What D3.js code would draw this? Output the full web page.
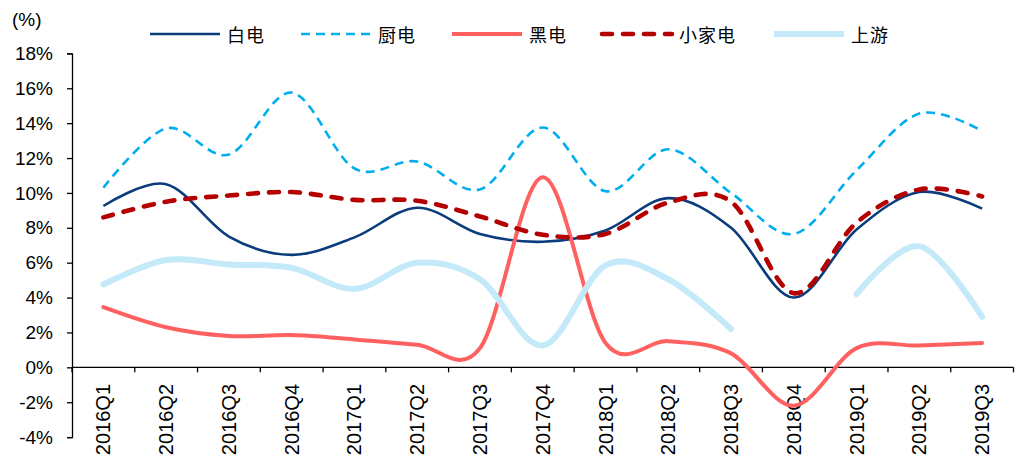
<!DOCTYPE html>
<html>
<head>
<meta charset="utf-8">
<script src="https://cdn.jsdelivr.net/npm/d3@7"></script>
<style>
  html, body { margin: 0; padding: 0; background: #fff; }
  svg { display: block; }
  .tick text { font-family: "Liberation Sans", Arial, sans-serif; fill: #000; }
</style>
</head>
<body>
<svg id="chart" width="1025" height="459"></svg>
<script>
// Quarterly categories
const categories = ["2016Q1","2016Q2","2016Q3","2016Q4","2017Q1","2017Q2","2017Q3","2017Q4",
                    "2018Q1","2018Q2","2018Q3","2018Q4","2019Q1","2019Q2","2019Q3"];

// Series values (%)
const baidian     = [9.25, 10.5, 7.5, 6.45, 7.45, 9.15, 7.65, 7.2, 7.85, 9.7, 8.0, 4.0, 7.9, 10.05, 9.1];
const chudian     = [10.3, 13.7, 12.2, 15.75, 11.4, 11.8, 10.2, 13.75, 10.1, 12.5, 10.0, 7.65, 11.3, 14.55, 13.55];
const heidian     = [3.45, 2.3, 1.8, 1.85, 1.6, 1.3, 1.1, 10.9, 1.4, 1.5, 0.8, -2.2, 1.1, 1.25, 1.4];
const xiaojiadian = [8.6, 9.5, 9.85, 10.05, 9.6, 9.55, 8.65, 7.6, 7.65, 9.45, 9.5, 4.25, 8.3, 10.2, 9.8];
const shangyou    = [4.75, 6.15, 5.9, 5.7, 4.5, 6.0, 5.05, 1.25, 5.85, 5.05, 2.2, null, 4.2, 6.95, 2.9];

// Axis ticks
const yTicks = [-4, -2, 0, 2, 4, 6, 8, 10, 12, 14, 16, 18];

const series = [
  { name: "白电",   values: baidian,     color: "#0B3C7C", width: 2.6, dash: null,    cap: "butt"  },
  { name: "厨电",   values: chudian,     color: "#00AEEF", width: 2.6, dash: "9,6",   cap: "butt"  },
  { name: "黑电",   values: heidian,     color: "#FF6161", width: 4,   dash: null,    cap: "round" },
  { name: "小家电", values: xiaojiadian, color: "#B50000", width: 4.6, dash: "10,11", cap: "round" },
  { name: "上游",   values: shangyou,    color: "#C4EAF9", width: 6,   dash: null,    cap: "round" }
];

const svg = d3.select("#chart");
const plotLeft = 72, plotRight = 1013.5, plotTop = 53.4, plotBottom = 437.1;

const x = d3.scaleBand().domain(categories).range([plotLeft, plotRight]).paddingInner(0).paddingOuter(0);
const y = d3.scaleLinear().domain([-4, 18]).range([plotBottom, plotTop]);

// Y axis
const yAxis = svg.append("g")
  .attr("transform", `translate(${plotLeft},0)`)
  .call(d3.axisLeft(y).tickValues(yTicks).tickSize(5).tickPadding(14).tickFormat(d => d + "%"));
yAxis.selectAll(".tick text").style("font-size", "19px");
yAxis.selectAll("path, line").attr("stroke", "#000").attr("stroke-width", 1.3);

// X axis at zero line, ticks on band boundaries
const xAxisG = svg.append("g").attr("transform", `translate(0,${y(0)})`);
xAxisG.append("line")
  .attr("x1", plotLeft).attr("x2", plotRight)
  .attr("stroke", "#000").attr("stroke-width", 1.3);
const boundaries = categories.map(c => x(c)).concat([plotRight]);
xAxisG.selectAll("line.tk").data(boundaries).enter().append("line")
  .attr("class", "tk")
  .attr("x1", d => d).attr("x2", d => d)
  .attr("y1", 0).attr("y2", 5)
  .attr("stroke", "#000").attr("stroke-width", 1.3);

// Category labels, rotated
svg.append("g").selectAll("text").data(categories).enter().append("text")
  .attr("transform", d => `translate(${x(d) + x.bandwidth() / 2},384) rotate(-90)`)
  .attr("text-anchor", "end")
  .attr("dominant-baseline", "central")
  .style("font-family", "'Liberation Sans', Arial, sans-serif")
  .style("font-size", "20px")
  .text(d => d);

// Unit label
svg.append("text")
  .attr("x", 12).attr("y", 26)
  .style("font-family", "'Liberation Sans', Arial, sans-serif")
  .style("font-size", "19px")
  .text("(%)");

// Smoothed lines
const line = d3.line()
  .defined(d => d.v !== null)
  .x(d => x(d.c) + x.bandwidth() / 2)
  .y(d => y(d.v))
  .curve(d3.curveCardinal.tension(0));

series.forEach(s => {
  const pts = categories.map((c, i) => ({ c, v: s.values[i] }));
  svg.append("path")
    .datum(pts)
    .attr("d", line)
    .attr("fill", "none")
    .attr("stroke", s.color)
    .attr("stroke-width", s.width)
    .attr("stroke-linecap", s.cap)
    .attr("stroke-linejoin", "round")
    .attr("stroke-dasharray", s.dash);
});

// Legend
const legendX = [150, 301, 452, 602, 774];
const legend = svg.append("g");
series.forEach((s, i) => {
  const g = legend.append("g").attr("transform", `translate(${legendX[i]},34)`);
  g.append("line")
    .attr("x1", 0).attr("x2", 70)
    .attr("stroke", s.color)
    .attr("stroke-width", s.width)
    .attr("stroke-linecap", s.dash ? s.cap : "butt")
    .attr("stroke-dasharray", s.dash);
  g.append("text")
    .attr("x", 77).attr("y", 0)
    .attr("dominant-baseline", "central")
    .style("font-family", "'Noto Sans CJK SC', sans-serif")
    .style("font-size", "18px")
    .style("letter-spacing", "1px")
    .text(s.name);
});
</script>
</body>
</html>
